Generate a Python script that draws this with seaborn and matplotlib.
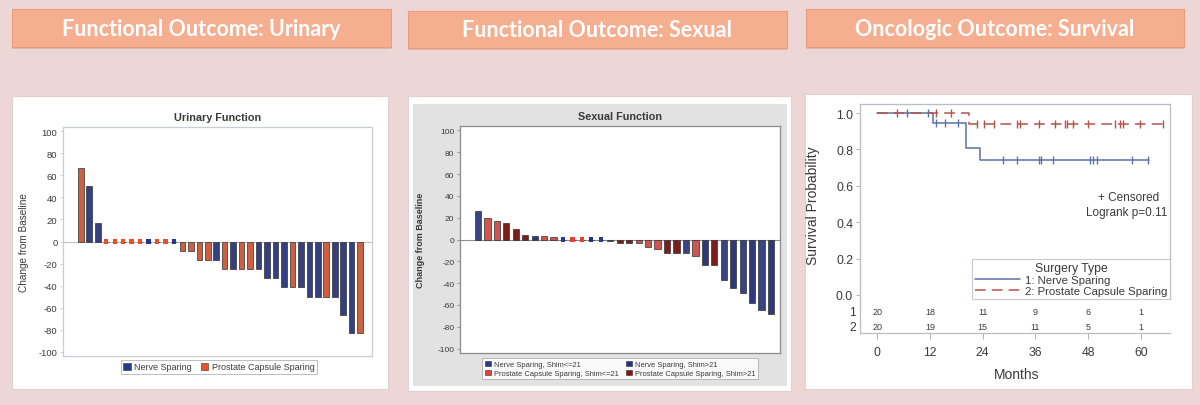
import numpy as np
import pandas as pd
import matplotlib.pyplot as plt
import seaborn as sns
from matplotlib.patches import Rectangle
from matplotlib.lines import Line2D

# --- Data ---
HEADERS = ['Functional Outcome: Urinary', 'Functional Outcome: Sexual', 'Oncologic Outcome: Survival']

# Urinary function waterfall (change from baseline, one bar per patient)
uri_change = [66.7, 50.0, 16.7, 0, 0, 0, 0, 0, 0, 0, 0, 0,
              -8.3, -8.9, -16.7, -16.7, -16.7, -25.0, -25.0, -25.0, -25.0, -25.0,
              -33.3, -33.3, -41.7, -41.7, -41.7, -50.0, -50.0, -50.0, -50.0,
              -66.7, -83.3, -83.3]
uri_group = ['PCS', 'NS', 'NS',
             'PCS', 'PCS', 'PCS', 'PCS', 'PCS', 'NS', 'PCS', 'PCS', 'NS',
             'PCS', 'PCS', 'PCS', 'PCS', 'NS', 'PCS', 'NS', 'PCS', 'PCS', 'NS',
             'NS', 'NS', 'NS', 'PCS', 'NS', 'NS', 'NS', 'PCS', 'NS',
             'NS', 'NS', 'PCS']
uri_labels = {'NS': 'Nerve Sparing', 'PCS': 'Prostate Capsule Sparing'}

# Sexual function waterfall
sex_change = [26, 20, 17, 15.5, 9.5, 4.5, 3.5, 3.5, 2.5, 0, 0, 0, 0, 0, -1,
              -3.5, -3.5, -3.5, -7, -8.5, -12, -12, -12, -15, -23, -23,
              -37, -44, -49, -58, -64.5, -68]
sex_group = ['NS_lo', 'PCS_lo', 'PCS_lo', 'PCS_hi', 'PCS_hi', 'PCS_hi', 'NS_hi', 'PCS_lo', 'PCS_lo',
             'NS_lo', 'PCS_lo', 'PCS_lo', 'NS_hi', 'NS_lo', 'NS_hi',
             'PCS_hi', 'PCS_hi', 'PCS_lo', 'PCS_lo', 'PCS_lo', 'PCS_hi', 'PCS_hi', 'NS_lo', 'PCS_lo',
             'NS_hi', 'PCS_hi', 'NS_lo', 'NS_hi', 'NS_lo', 'NS_hi', 'NS_lo', 'NS_hi']
sex_labels = {'NS_lo': 'Nerve Sparing, Shim<=21', 'PCS_lo': 'Prostate Capsule Sparing, Shim<=21',
              'NS_hi': 'Nerve Sparing, Shim>21', 'PCS_hi': 'Prostate Capsule Sparing, Shim>21'}

# Kaplan-Meier survival
ns_time = [0, 12.7, 20.2, 23.4, 61.9]
ns_surv = [1.0, 0.944, 0.809, 0.742, 0.742]
ns_cens = [6.7, 11.6, 13.4, 15.5, 18.4, 28.7, 31.7, 36.8, 37.2, 39.9,
           48.4, 49.2, 50.1, 57.9, 61.7]
pcs_time = [0, 20.9, 65.0]
pcs_surv = [1.0, 0.94, 0.94]
pcs_cens = [4.5, 13.4, 16.7, 22.7, 24.3, 26.5, 31.7, 32.5, 36.7, 40.5, 42.7,
            43.2, 44.6, 47.9, 54.1, 55.2, 56.0, 59.8, 64.9]
risk_time = [0, 12, 24, 36, 48, 60]
risk_ns = [20, 18, 11, 9, 6, 1]
risk_pcs = [20, 19, 15, 11, 5, 1]

# --- Colours ---
BG = '#ECD6D6'
URI_PAL = {'NS': '#27378E', 'PCS': '#E4522B'}
SEX_PAL = {'NS_lo': '#2C3B92', 'PCS_lo': '#E5403A', 'NS_hi': '#222F86', 'PCS_hi': '#8C0E0E'}
KM_BLUE = '#5B72A6'
KM_RED = '#B4534C'
TXT = '#3A3A3A'

W, H = 1200, 406
sns.set_theme(style='white')
plt.rcParams['font.family'] = ['Liberation Sans', 'DejaVu Sans']
plt.rcParams['axes.unicode_minus'] = False

fig = plt.figure(figsize=(12, 4.06), dpi=100, facecolor=BG)


def px_rect(x0, y0, x1, y1):
    return [x0 / W, 1 - y1 / H, (x1 - x0) / W, (y1 - y0) / H]


def fig_box(x0, y0, x1, y1, **kw):
    r = px_rect(x0, y0, x1, y1)
    fig.add_artist(Rectangle((r[0], r[1]), r[2], r[3], transform=fig.transFigure, zorder=-5, **kw))


# header boxes
for (x0, y0, x1, y1), txt in zip([(12, 10, 391, 48), (408, 12, 787, 49), (806, 10, 1184, 48)], HEADERS):
    fig_box(x0, y0 + 2, x1, y1 + 2, facecolor='#DDB8B0', edgecolor='none')
    fig_box(x0, y0, x1, y1, facecolor='#F5AE90', edgecolor='#EC9C7E', linewidth=0.8)
    fig.text((x0 + x1) / 2 / W, 1 - (y0 + y1) / 2 / H, txt, color='white', fontsize=15.5,
             fontweight='bold', family=['Lato', 'DejaVu Sans'], ha='center', va='center')

# white panels
fig_box(12, 97, 388, 390, facecolor='white', edgecolor='#E3D0D0', linewidth=0.8)
fig_box(408, 97, 791, 392, facecolor='white', edgecolor='#E3D0D0', linewidth=0.8)
fig_box(413, 105, 787, 387, facecolor='#E2E2E2', edgecolor='none')
fig_box(805, 95, 1192, 390, facecolor='white', edgecolor='#E3D0D0', linewidth=0.8)


def waterfall(ax, values, groups, palette, labels, order, frame_col, title, ylabel_bold,
              xlim, ylab_xy, leg_xy, leg_fs, zero_col, tick_fs, ylab_fs):
    df = pd.DataFrame({'pos': np.arange(len(values)), 'change': values, 'group': groups})
    sns.barplot(data=df, x='pos', y='change', hue='group', palette=palette, dodge=False,
                width=0.66, edgecolor='#303030', linewidth=0.5, legend=False, ax=ax,
                native_scale=True)
    zeros = df[df['change'] == 0]
    sns.scatterplot(data=zeros, x='pos', y='change', hue='group', palette=palette, marker='s',
                    s=9, linewidth=0, legend=False, ax=ax)
    ax.axhline(0, color=zero_col, lw=0.8, zorder=0.5)
    ax.set_xlim(*xlim)
    ax.set_ylim(-104, 104)
    ax.set_yticks(range(-100, 101, 20))
    ax.set_xticks([])
    ax.set_xlabel('')
    ax.tick_params(axis='y', labelsize=tick_fs, colors=TXT, length=2.5, width=0.6,
                   direction='out', pad=1.5)
    ax.tick_params(axis='y', color=frame_col, left=True)
    for sp in ax.spines.values():
        sp.set_color(frame_col)
        sp.set_linewidth(0.9)
    ax.set_ylabel('Change from Baseline', fontsize=ylab_fs, color=TXT,
                  fontweight='bold' if ylabel_bold else 'normal')
    ax.yaxis.set_label_coords(*ylab_xy)
    ax.set_title(title, fontsize=7.8, fontweight='bold', color=TXT, pad=5)
    handles = [Rectangle((0, 0), 1, 1, facecolor=palette[g], edgecolor='#303030', linewidth=0.4)
               for g in order]
    leg = ax.legend(handles, [labels[g] for g in order], loc='center', bbox_to_anchor=leg_xy,
                    ncol=2, fontsize=leg_fs, frameon=True, fancybox=False, handlelength=0.8,
                    handleheight=0.8, handletextpad=0.4, columnspacing=1.0, borderpad=0.3,
                    labelspacing=0.2)
    leg.get_frame().set_edgecolor('#A0A0A0')
    leg.get_frame().set_linewidth(0.6)
    for t in leg.get_texts():
        t.set_color(TXT)


# --- Urinary ---
ax1 = fig.add_axes(px_rect(63, 128, 372, 357))
waterfall(ax1, uri_change, uri_group, URI_PAL, uri_labels, ['NS', 'PCS'], '#C6CDD7',
          'Urinary Function', False, (-2.1, 34.4), (-0.11, 0.5), (0.505, -0.048), 6.5, '#C0C0C0',
          6.8, 7.2)

# --- Sexual ---
ax2 = fig.add_axes(px_rect(460, 127, 780, 354))
waterfall(ax2, sex_change, sex_group, SEX_PAL, sex_labels, ['NS_lo', 'PCS_lo', 'NS_hi', 'PCS_hi'],
          '#8A8A8A', 'Sexual Function', True, (-1.9, 31.95), (-0.109, 0.5), (0.5, -0.07), 5.4, '#909090',
          6.0, 6.5)

# --- Survival ---
ax3 = fig.add_axes(px_rect(860, 105, 1170, 334))
sns.lineplot(x=ns_time, y=ns_surv, drawstyle='steps-post', color=KM_BLUE, lw=1.1,
             estimator=None, sort=False, ax=ax3)
sns.lineplot(x=pcs_time, y=pcs_surv, drawstyle='steps-post', color=KM_RED, lw=1.1,
             estimator=None, sort=False, ax=ax3)
ax3.lines[1].set_dashes((7, 4))


def surv_at(times, surv, t):
    idx = np.searchsorted(np.asarray(times), np.asarray(t), side='right') - 1
    return np.asarray(surv)[idx]


sns.scatterplot(x=pcs_cens, y=surv_at(pcs_time, pcs_surv, pcs_cens), marker='|', s=32,
                color=KM_RED, linewidth=1.0, ax=ax3)
sns.scatterplot(x=ns_cens, y=surv_at(ns_time, ns_surv, ns_cens), marker='|', s=32,
                color=KM_BLUE, linewidth=1.0, ax=ax3)

ax3.set_xlim(-3.9, 66.6)
ax3.set_ylim(-0.209, 1.05)
ax3.set_xticks(risk_time)
ax3.set_yticks([0, 0.2, 0.4, 0.6, 0.8, 1.0])
ax3.set_yticklabels(['0.0', '0.2', '0.4', '0.6', '0.8', '1.0'])
ax3.tick_params(labelsize=8.8, colors=TXT, width=0.6, direction='out')
ax3.tick_params(axis='y', length=3, pad=2)
ax3.tick_params(axis='x', length=4.5, pad=5)
ax3.tick_params(color='#A8A8A8', left=True, bottom=True)
for sp in ax3.spines.values():
    sp.set_color('#B8BEC6')
    sp.set_linewidth(0.9)
ax3.spines['right'].set_bounds(-0.022, 1.05)

for t, a, b in zip(risk_time, risk_ns, risk_pcs):
    ax3.text(t, -0.093, str(a), ha='center', va='center', fontsize=6.5, color=TXT)
    ax3.text(t, -0.176, str(b), ha='center', va='center', fontsize=6.5, color=TXT)
trans = ax3.get_yaxis_transform()
ax3.text(-0.012, -0.093, '1', transform=trans, ha='right', va='center', fontsize=8.8, color=TXT)
ax3.text(-0.012, -0.176, '2', transform=trans, ha='right', va='center', fontsize=8.8, color=TXT)

ax3.text(64.2, 0.54, '+ Censored', ha='right', va='center', fontsize=8.5, color=TXT)
ax3.text(66.1, 0.455, 'Logrank p=0.11', ha='right', va='center', fontsize=8.5, color=TXT)

ax3.set_ylabel('Survival Probability', fontsize=10, color=TXT)
ax3.yaxis.set_label_coords(-0.128, 0.56)
ax3.set_xlabel('Months', fontsize=10, color=TXT)
ax3.xaxis.set_label_coords(0.506, -0.15)

km_handles = [Line2D([], [], color=KM_BLUE, lw=1.1),
              Line2D([], [], color=KM_RED, lw=1.1, dashes=(7, 4))]
leg3 = ax3.legend(km_handles, ['1: Nerve Sparing', '2: Prostate Capsule Sparing'],
                  title='Surgery Type', loc='lower right', bbox_to_anchor=(1.0, 0.148),
                  borderaxespad=0, fontsize=8.2, title_fontsize=8.8, frameon=True, fancybox=False,
                  handlelength=4.0, handletextpad=0.4, borderpad=0.25, labelspacing=0.1)
leg3.get_frame().set_edgecolor('#B8BEC6')
leg3.get_frame().set_linewidth(0.8)
for t in leg3.get_texts():
    t.set_color(TXT)
leg3.get_title().set_color(TXT)

fig.savefig('out.png', dpi=100, facecolor=BG)
